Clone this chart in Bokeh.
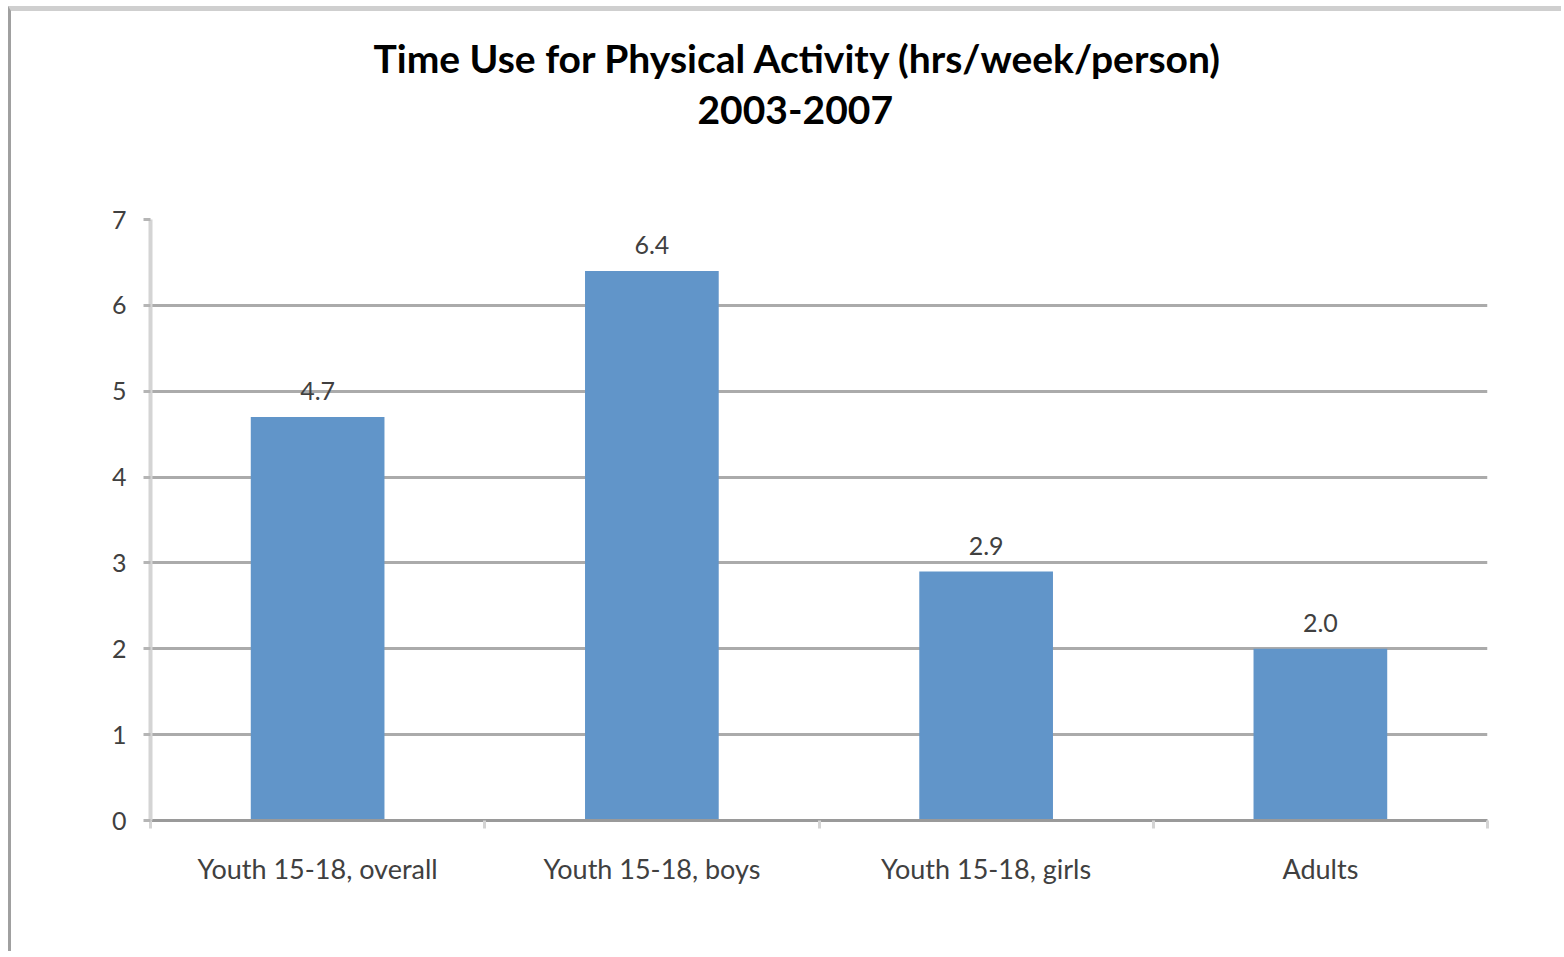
from bokeh.plotting import figure
from bokeh.models import (Range1d, LinearAxis, FixedTicker, ColumnDataSource,
                          LabelSet, Title)
from bokeh.core.properties import value
from bokeh.embed import file_html
from bokeh.resources import INLINE

categories = ["Youth 15-18, overall", "Youth 15-18, boys", "Youth 15-18, girls", "Adults"]
hours = [4.7, 6.4, 2.9, 2.0]
y_ticks = [0, 1, 2, 3, 4, 5, 6, 7]
title_lines = ["Time Use for Physical Activity (hrs/week/person)", "2003-2007"]

FONT = "Lato"
TXT = "#404040"

W, H = 1553, 945
p = figure(width=W, height=H, x_range=categories, y_range=Range1d(0, 7),
           output_backend="svg", toolbar_location=None, title=None,
           min_border_left=139, min_border_right=77, min_border_top=208,
           min_border_bottom=136, outline_line_color=None,
           styles={"margin-left": "8px", "margin-top": "6px",
                   "border-top": "5px solid #cfcfcf",
                   "border-left": "3px solid #a0a0a0"})

src = ColumnDataSource(dict(cat=categories, hours=hours,
                            lab=[f"{v:.1f}" for v in hours]))
p.vbar(x="cat", top="hours", width=0.4, source=src, fill_color="#6195C9",
       line_color=None)

p.add_layout(LabelSet(x="cat", y="hours", text="lab", source=src, y_offset=26,
                      text_align="center", text_baseline="middle",
                      text_font=value(FONT), text_font_size="25px", text_color=TXT))

# grid
p.xgrid.grid_line_color = None
p.ygrid.ticker = FixedTicker(ticks=y_ticks)
p.ygrid.grid_line_color = "#ababab"
p.ygrid.grid_line_width = 3

# y axis
ya = p.yaxis[0]
ya.ticker = FixedTicker(ticks=y_ticks)
ya.axis_line_color = "#d4d4d4"
ya.axis_line_width = 4
ya.major_tick_out = 7
ya.major_tick_in = 0
ya.major_tick_line_color = "#b5b5b5"
ya.major_tick_line_width = 3
ya.minor_tick_line_color = None
ya.major_label_text_font = FONT
ya.major_label_text_font_size = "25px"
ya.major_label_text_color = TXT
ya.major_label_standoff = 17

# x axes: category slot boundaries (minor ticks only) and labels
slot_edges = list(range(len(categories) + 1))
tick_axis = LinearAxis(ticker=FixedTicker(ticks=[], minor_ticks=slot_edges),
                       axis_line_color="#9a9a9a", axis_line_width=3,
                       major_tick_out=8, major_tick_in=0,
                       minor_tick_out=8, minor_tick_in=0,
                       minor_tick_line_color="#d4d4d4", minor_tick_line_width=3,
                       major_label_standoff=0)
cat_axis = p.xaxis[0]
cat_axis.axis_line_color = None
cat_axis.major_tick_line_color = None
cat_axis.major_label_text_font = FONT
cat_axis.major_label_text_font_size = "27px"
cat_axis.major_label_text_color = TXT
cat_axis.major_label_standoff = 17
p.below = [tick_axis, cat_axis]

# invisible axis used only as a gap between the title and the plot area
gap_axis = LinearAxis(ticker=FixedTicker(ticks=[], minor_ticks=slot_edges),
                      axis_line_color=None, major_tick_line_color=None,
                      minor_tick_line_color=None, major_tick_out=89,
                      major_tick_in=0, minor_tick_out=89, minor_tick_in=0,
                      major_label_standoff=0)

# title: two lines, left-aligned with offsets so both are centred near x=795
t1 = Title(text=title_lines[0], align="left", offset=223, text_font=FONT,
           text_font_style="bold", text_font_size="39px", text_color="black",
           standoff=13)
t2 = Title(text=title_lines[1], align="left", offset=547, text_font=FONT,
           text_font_style="bold", text_font_size="39px", text_color="black",
           standoff=13)
p.above = [gap_axis, t2, t1]

open("out.html", "w").write(file_html(p, INLINE))
